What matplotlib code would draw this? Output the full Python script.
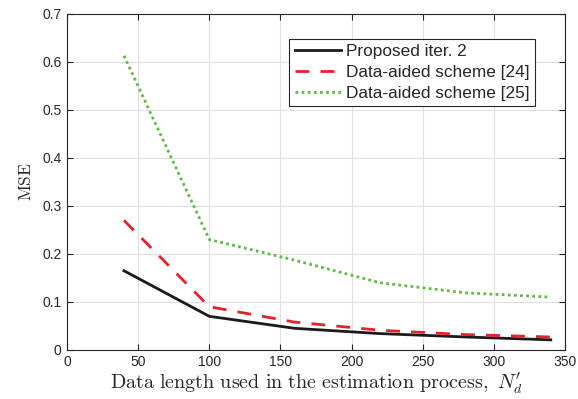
import matplotlib
matplotlib.use("Agg")
import matplotlib.pyplot as plt

plt.rcParams['font.family'] = ['Liberation Sans', 'DejaVu Sans']
plt.rcParams['mathtext.fontset'] = 'cm'

x = [40, 100, 160, 220, 280, 340]
proposed = [0.165, 0.070, 0.045, 0.034, 0.027, 0.021]
da24 = [0.270, 0.090, 0.058, 0.041, 0.032, 0.027]
da25 = [0.613, 0.230, 0.187, 0.140, 0.119, 0.110]
xticks = [0, 50, 100, 150, 200, 250, 300, 350]
yticks = [0, 0.1, 0.2, 0.3, 0.4, 0.5, 0.6, 0.7]

fig = plt.figure(figsize=(5.78, 3.99), dpi=100)
ax = fig.add_axes([0.116, 0.123, 0.8615, 0.842])

ax.plot(x, proposed, color='#1a1a1a', lw=2.0, label='Proposed iter. 2')
ax.plot(x, da24, color='#e8202a', lw=2.0, ls=(0, (5, 4)), label='Data-aided scheme [24]')
ax.plot(x, da25, color='#5fba46', lw=2.0, ls=(0, (1, 1.2)), label='Data-aided scheme [25]')

ax.set_xlim(0, 350)
ax.set_ylim(0, 0.7)
ax.set_xticks(xticks)
ax.set_yticks(yticks)
ax.set_xticklabels([str(t) for t in xticks])
ax.set_yticklabels(['0'] + [f'{t:.1f}' for t in yticks[1:]])
ax.grid(True, color='#e0e0e0', lw=0.8)
ax.set_axisbelow(True)
ax.tick_params(direction='in', length=4, width=0.8, top=True, right=True,
               labelsize=10, colors='#262626', labelcolor='#262626', pad=4)
for s in ax.spines.values():
    s.set_color('#262626')
    s.set_linewidth(0.8)

ax.set_xlabel(r'$\mathrm{Data\ length\ used\ in\ the\ estimation\ process,}\ N^{\prime}_d$',
              fontsize=14.5, color='#262626', labelpad=1)
ax.set_ylabel(r'$\mathrm{MSE}$', fontsize=12.5, color='#262626', labelpad=6)

leg = ax.legend(loc='upper right', bbox_to_anchor=(0.94, 0.926), fontsize=12.4,
                handlelength=2.7, handletextpad=0.3, borderpad=0.3, labelspacing=0.35,
                fancybox=False, framealpha=1, edgecolor='#262626', borderaxespad=0)
leg.get_frame().set_linewidth(0.8)
for t in leg.get_texts():
    t.set_color('#262626')

fig.savefig('out.png', dpi=100)
